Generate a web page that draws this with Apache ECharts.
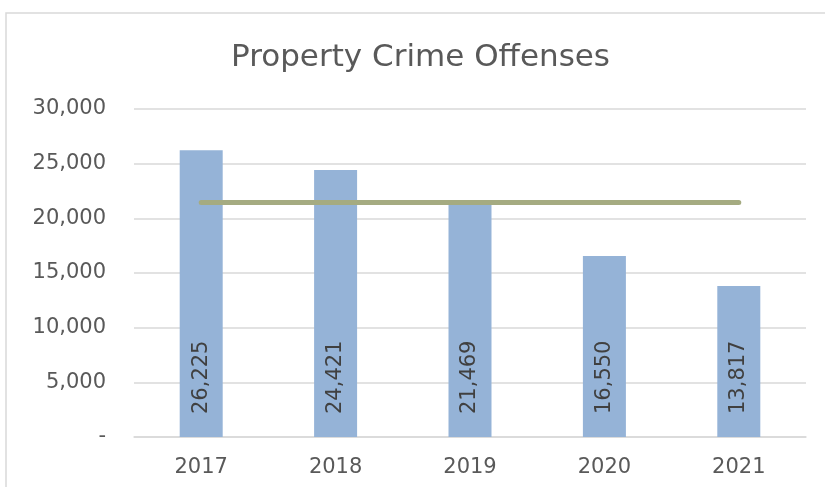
<!DOCTYPE html>
<html>
<head>
<meta charset="utf-8">
<script src="https://cdn.jsdelivr.net/npm/echarts@6/dist/echarts.min.js"></script>
<style>
html,body{margin:0;padding:0;background:#fff;}
#main{width:825px;height:487px;}
</style>
</head>
<body>
<div id="main"></div>
<script>
// 数据
var years = ['2017', '2018', '2019', '2020', '2021'];
var offenses = [26225, 24421, 21469, 16550, 13817];
var refLine = [21450, 21450, 21450, 21450, 21450];
var yTicks = [0, 5000, 10000, 15000, 20000, 25000, 30000];

var FONT = '"DejaVu Sans", "Liberation Sans", sans-serif';

function fmt(v) {
    return v === 0 ? '-' : String(v).replace(/\B(?=(\d{3})+(?!\d))/g, ',');
}

var myChart = echarts.init(document.getElementById('main'));
var options = {
    animation: false,
    title: {
        text: 'Property Crime Offenses',
        left: 226,
        top: 37,
        textStyle: {
            fontFamily: FONT,
            fontSize: 31,
            fontWeight: 'normal',
            color: '#595959'
        }
    },
    graphic: [{
        type: 'rect',
        shape: { x: 6, y: 13, width: 830, height: 490 },
        style: { fill: 'none', stroke: '#d9d9d9', lineWidth: 1.5 },
        silent: true
    }],
    grid: {
        left: 134,
        right: 19,
        top: 109,
        bottom: 50
    },
    xAxis: {
        type: 'category',
        data: years,
        axisTick: { show: false },
        axisLine: { lineStyle: { color: '#d9d9d9', width: 1.5 } },
        axisLabel: {
            color: '#595959',
            fontSize: 21,
            margin: 20,
            fontFamily: FONT
        }
    },
    yAxis: {
        type: 'value',
        min: yTicks[0],
        max: yTicks[yTicks.length - 1],
        interval: yTicks[1] - yTicks[0],
        axisLine: { show: false },
        axisTick: { show: false },
        splitLine: { lineStyle: { color: '#d9d9d9', width: 1.5 } },
        axisLabel: {
            color: '#595959',
            fontSize: 21,
            margin: 28,
            fontFamily: FONT,
            formatter: fmt
        }
    },
    series: [
        {
            type: 'bar',
            data: offenses,
            barWidth: 43,
            itemStyle: { color: '#95b3d7' },
            label: {
                show: true,
                position: 'insideBottom',
                rotate: 90,
                align: 'left',
                verticalAlign: 'middle',
                distance: 23,
                color: '#404040',
                fontSize: 21,
                fontFamily: FONT,
                formatter: function (p) { return fmt(p.value); }
            }
        },
        {
            type: 'line',
            data: refLine,
            symbol: 'none',
            lineStyle: { color: '#a5ab81', width: 5, cap: 'round' },
            z: 3
        }
    ]
};
myChart.setOption(options);
</script>
</body>
</html>
